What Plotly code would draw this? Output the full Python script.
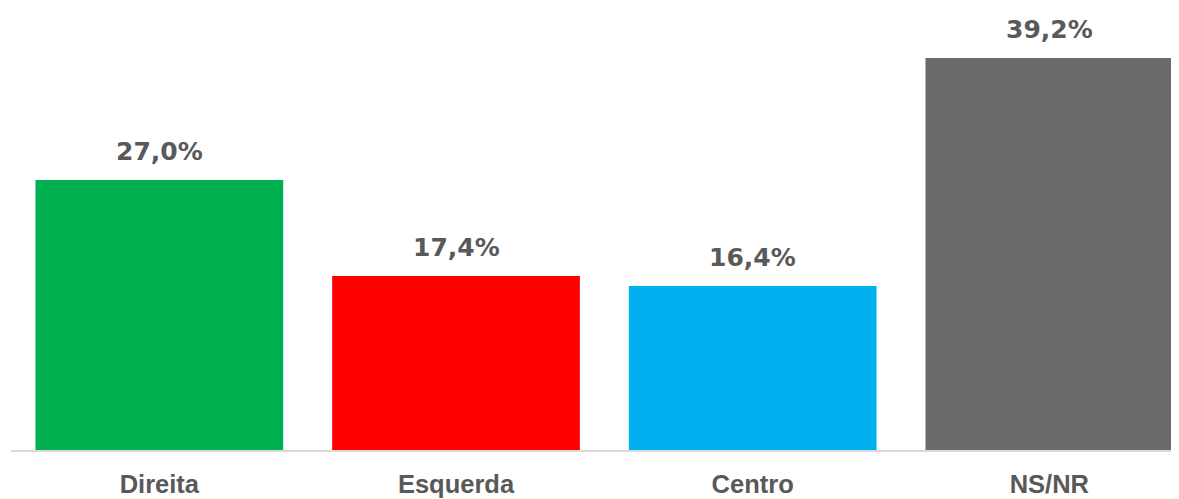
import plotly.graph_objects as go

categories = ["Direita", "Esquerda", "Centro", "NS/NR"]
values = [27.0, 17.4, 16.4, 39.2]
colors = ["#00B050", "#FF0000", "#00B0F0", "#6B6A68"]

text_color = "#595959"
label_font = "DejaVu Sans, Arial, sans-serif"
cat_font = "Liberation Sans, Arial, sans-serif"

fig = go.Figure(
    go.Bar(
        x=categories,
        y=values,
        marker=dict(color=colors, line=dict(width=0)),
        width=0.835,
        hoverinfo="x+y",
    )
)

for c, v in zip(categories, values):
    fig.add_annotation(
        x=c,
        y=v,
        text="<b>" + f"{v:.1f}".replace(".", ",") + "%</b>",
        showarrow=False,
        yanchor="bottom",
        xanchor="center",
        yshift=12,
        font=dict(size=25, color=text_color, family=label_font),
    )

# page body has an 8px margin; size the figure so the visible area matches
fig.update_layout(
    width=1171,
    height=491,
    margin=dict(l=3, r=0, t=0, b=49, autoexpand=False),
    paper_bgcolor="white",
    plot_bgcolor="white",
    showlegend=False,
    font=dict(family=cat_font, color=text_color),
)

fig.update_xaxes(
    range=[-0.5, 3.437],
    showgrid=False,
    showline=True,
    linecolor="#D9D9D9",
    linewidth=2,
    ticks="",
    tickfont=dict(size=25.5, color=text_color, family=cat_font),
    tickprefix="<b>",
    ticksuffix="</b>",
    ticklabelstandoff=10,
    automargin=False,
)
fig.update_yaxes(
    range=[0, 44.2],
    visible=False,
    showgrid=False,
    zeroline=False,
    automargin=False,
)

fig.write_html("out.html")
